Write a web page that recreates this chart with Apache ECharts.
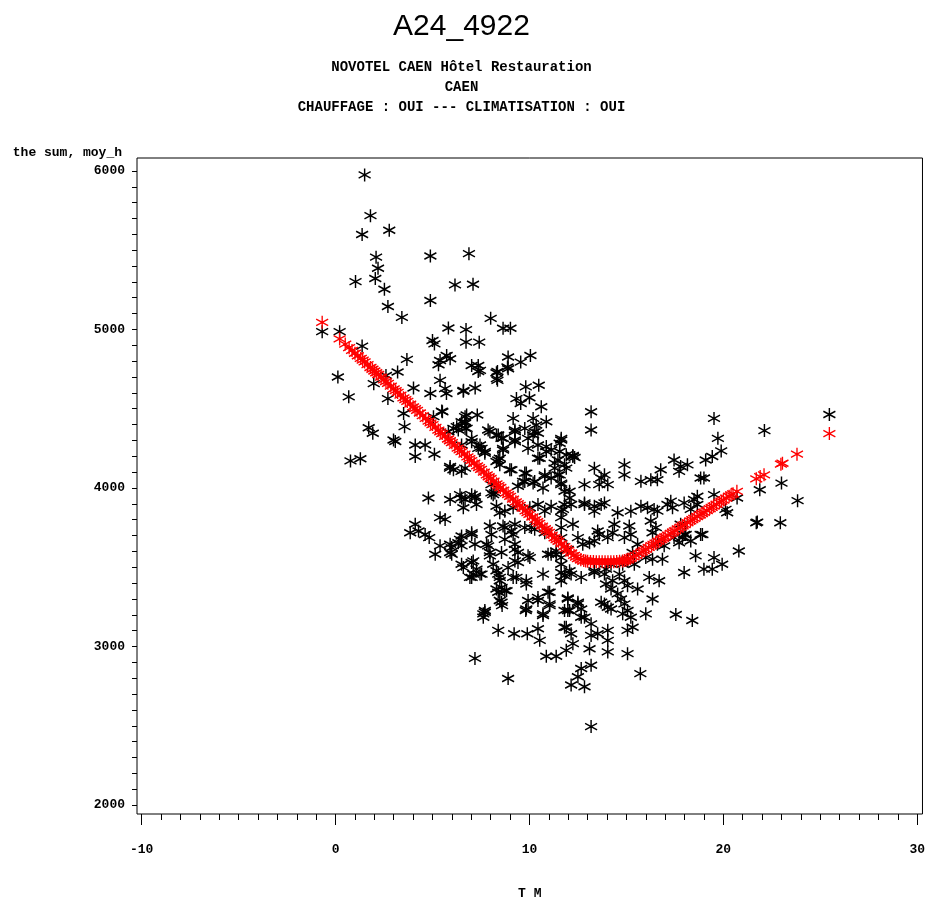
<!DOCTYPE html>
<html>
<head>
<meta charset="utf-8">
<script src="https://cdn.jsdelivr.net/npm/echarts@6/dist/echarts.min.js"></script>
<style>html,body{margin:0;padding:0;background:#fff;overflow:hidden}#c{width:928px;height:905px}</style>
</head>
<body>
<div id="c"></div>
<script>
// ---- texts ----
const titleText = 'A24_4922';
const subtitleLines = ['NOVOTEL CAEN Hôtel Restauration', 'CAEN', 'CHAUFFAGE : OUI --- CLIMATISATION : OUI'];
const yName = 'the sum, moy_h';
const xName = 'T M';
// ---- tick labels ----
const xTickLabels = [-10, 0, 10, 20, 30];
const yTickLabels = [2000, 3000, 4000, 5000, 6000];
// ---- observed values [T M, sum moy_h] ----
const observedUpper = [
[1.50,5975],[1.80,5718],[1.37,5599],[2.77,5626],[2.09,5456],[2.19,5386],[2.05,5321],[1.03,5302],[2.52,5254],[4.89,5463],[6.88,5478],[6.16,5281],[7.09,5285],[4.89,5183],[2.70,5145],[3.42,5076],[8.00,5070],[5.82,5009],[6.73,4999],[8.64,5008],[9.02,5008],[-0.69,4986],[0.21,4986],[5.00,4930],[5.10,4909],[6.73,4920],[7.41,4920],[1.37,4895],[3.68,4811],[5.73,4836],[5.91,4815],[5.39,4804],[5.31,4777],[7.02,4773],[7.36,4773],[7.45,4742],[8.90,4826],[8.87,4763],[8.35,4735],[8.32,4690],[9.55,4794],[10.05,4836],[0.12,4700],[0.68,4575],[3.20,4732],[2.60,4710],[1.97,4658],[4.02,4631],[5.39,4679],[5.65,4627],[5.72,4596],[4.89,4596],[6.60,4616],[7.20,4631],[2.70,4564],[3.51,4470],[3.56,4387],[5.05,4450],[5.51,4481],[6.76,4460],[6.68,4418],[7.31,4460],[4.11,4271],[4.62,4271],[2.99,4303],[1.71,4380],[1.92,4345],[5.82,4355],[6.25,4387],[6.50,4418],[6.68,4376],[7.02,4313],[7.45,4271],[7.96,4355],[8.39,4334],[8.64,4313],[9.16,4439],[9.25,4355],[9.25,4292],[9.33,4564],[9.55,4533],[10.00,4569],[10.48,4648],[10.61,4512],[9.81,4638],[10.19,4439],[10.35,4397],[10.87,4418],[10.27,4355],[9.93,4313],[10.87,4261],[11.64,4313],
[7.36,4735],[8.30,4727],[8.35,4679],[8.90,4752],[6.59,4610],[5.48,4485],[6.68,4450],[6.68,4408],[9.76,4376],[9.25,4366],[10.44,4345],[10.19,4334],[6.08,4376],[6.33,4366],[6.76,4376],[7.87,4366],[8.30,4334],[8.56,4313],[9.25,4303]
];
const observedMiddle = [
[0.77,4171],[1.28,4184],[3.08,4293],[4.11,4199],[5.10,4213],[5.90,4125],[6.08,4115],[6.50,4105],[4.79,3937],[5.91,3927],[6.42,3958],[6.59,3875],[6.68,3927],[7.19,3937],[7.27,3896],[5.39,3813],[5.65,3802],[4.11,3771],[3.85,3718],[4.28,3729],[4.62,3707],[4.83,3687],[5.39,3635],[5.14,3582],[5.91,3645],[5.99,3582],[6.42,3676],[6.50,3635],[7.02,3718],[6.50,3519],[6.59,3498],[7.10,3540],[7.02,3436],[7.45,3457],[7.27,3488],[7.19,3645],[7.79,3645],[7.96,3760],[8.04,3707],[7.96,3572],[8.13,3519],[8.56,3593],[8.73,3750],[9.07,3729],[9.25,3645],[8.39,3457],[8.47,3415],[8.56,3373],[8.39,3342],[8.73,3352],[8.47,3290],[8.59,3258],[9.25,3540],[9.33,3436],[9.41,3593],[9.84,3394],[10.02,3561],[10.10,3750],[7.62,3206],[7.70,3227],[8.39,3102],[9.21,3081],[9.89,3081],[10.44,3112],[10.53,3039],[9.81,3227],[10.70,3196],[11.04,3269],[11.04,3342],[10.44,3290],[7.19,2925],[8.90,2798],[10.87,2939],[11.38,2939],[10.70,3457],[9.76,4041],[10.02,3875],[10.27,4041],[10.70,4000],[10.79,4083],[8.39,4177],[9.07,4115],[9.76,4094],[10.44,4188],[10.87,4230],[11.30,4157],[11.47,4083],[11.64,4021],[11.56,4230],[8.04,4021],[8.30,3885],[8.22,3969],[7.70,4219],[7.02,4292],[6.50,4271],[7.36,4250],[8.64,4250],[9.93,4250],[10.44,4271],[11.81,3979],[11.81,3896],[11.64,3813],[11.64,3687],[11.38,3582],[11.12,3582],[11.64,3519],[11.64,3415],[11.81,3227],[11.81,3122],[11.90,2976],
[5.91,4136],[6.68,4125],[7.53,4250],[7.70,4230],[8.47,4188],[8.64,4240],[8.30,4167],[8.99,4115],[8.47,4146],[11.12,4240],[11.56,4282],[10.53,4188],[12.24,4205],[12.33,4192],[11.30,4125],[11.47,4177],[11.12,4063],[11.56,4083],[11.90,4125],[11.64,4031],[12.07,3979],[9.84,4094],[9.67,4042],[10.19,4031],[10.79,4073],[9.41,4011],[7.02,3958],[8.04,3969],
[6.50,3937],[7.19,3948],[8.13,3958],[8.47,3844],[8.73,3854],[9.16,3875],[10.44,3896],[10.79,3854],[11.12,3885],[11.64,3854],[12.07,3937],[12.84,3906],[13.35,3885],[13.87,3906],[8.64,3760],[9.25,3771],[9.76,3750],[10.27,3739],[10.79,3718],[6.50,3697],[6.33,3655],[7.02,3707],[7.87,3635],[7.96,3593],[5.91,3593],[5.99,3624],[8.73,3676],[9.16,3707],[9.25,3613],[9.41,3530],[8.90,3498],[8.30,3478],[8.47,3436],[9.16,3436],[9.84,3415],[9.93,3572],[10.96,3582],[11.38,3603],[11.64,3561],[12.07,3478],[11.81,3446],[13.35,3467],[13.95,3488],[14.29,3415],[7.02,3530],[7.10,3457],[6.93,3436],[7.53,3457],[8.30,3363],[8.82,3352],[8.56,3279],[9.93,3290],[10.44,3310],[10.96,3342],[11.04,3258],[10.70,3206],[9.84,3237],[11.98,3300],[12.50,3279],[12.67,3237],[12.07,3227],[12.84,3185],[7.70,3216],[7.62,3185],[13.70,3279],[14.21,3237]
];
const observedRight = [
[13.18,4481],[13.18,4366],[19.52,4439],[19.72,4313],[19.89,4234],[19.43,4199],[19.09,4177],[22.12,4362],[25.47,4464],[23.00,4031],[21.88,3989],[23.83,3920],[21.70,3781],[21.75,3785],[22.94,3781],[20.80,3603],[20.20,3844],[20.11,3865],[20.71,3937],[19.52,3561],[19.43,3488],[19.00,3488],[19.94,3519],[18.57,3572],[17.98,3467],[17.55,3202],[18.40,3164],[18.92,3707],[18.32,3666],[17.98,3707],[17.80,3771],[18.66,3948],[19.00,4063],[19.52,3958],[18.83,4063],[17.46,4177],[17.80,4136],[18.15,4146],[17.72,4105],[16.77,4115],[16.60,4052],[15.75,4042],[16.26,4052],[14.90,4146],[14.90,4083],[13.35,4125],[13.70,4063],[13.60,4021],[14.04,4021],[13.87,4083],[12.84,4021],[12.24,4199],[11.64,4303],[11.81,4146],[11.90,4209],[12.84,3896],[13.70,3896],[13.35,3854],[14.55,3844],[15.23,3854],[15.75,3885],[16.09,3875],[16.43,3865],[16.60,3854],[17.12,3896],[17.38,3875],[17.29,3917],[17.98,3906],[18.49,3927],[18.66,3896],[18.32,3865],[18.83,3707],[16.26,3792],[16.52,3750],[16.35,3718],[16.60,3645],[16.95,3635],[16.86,3551],[16.35,3551],[16.18,3436],[16.69,3415],[16.35,3300],[17.46,3687],[17.72,3655],[17.89,3687],[18.06,3707],[15.15,3760],[14.90,3687],[15.23,3707],[15.58,3645],[15.32,3593],[15.06,3551],[14.81,3519],[15.41,3519],[16.00,3561],[14.38,3771],[14.29,3718],[13.52,3729],[13.60,3707],[14.04,3687],[13.35,3666],[13.10,3655],[12.24,3771],[12.50,3687],[12.75,3645],[11.98,3613],[11.64,3750],[12.15,3896],[11.73,3865],[12.15,3457],[11.64,3467],[12.67,3436],[13.35,3478],[13.87,3457],[14.21,3519],[14.64,3457],[14.90,3415],[15.06,3384],[15.58,3363],[13.95,3394],[14.21,3363],[14.55,3332],[14.72,3300],[14.90,3269],[15.06,3227],[15.23,3185],[14.81,3206],[14.04,3248],[13.87,3269],[11.98,3306],[12.50,3269],[11.98,3227],[12.67,3185],[13.18,3143],[11.90,3122],[12.15,3081],[12.24,3018],[13.18,3070],[13.52,3081],[14.04,3102],[14.04,3039],[13.10,2986],[14.04,2966],[15.06,2955],[15.06,3102],[15.32,3122],[16.00,3206],[12.67,2861],[12.50,2809],[12.15,2757],[12.84,2746],[13.18,2882],[15.72,2829],[13.18,2495]
];
// ---- fitted values [T M, predicted] ----
const fitted = [
[-0.69,5045],[0.21,4940],[0.5,4908],[0.7,4885],[0.85,4868],[1.0,4850],[1.15,4834],[1.3,4817],[1.4,4806],[1.5,4795],[1.65,4778],[1.8,4760],[1.9,4749],[2.0,4738],[2.1,4727],[2.2,4716],[2.35,4699],[2.5,4682],[2.6,4671],[2.7,4660],[2.85,4643],[3.0,4625],[3.1,4614],[3.2,4603],[3.35,4586],[3.5,4569],[3.6,4557],[3.7,4546],[3.85,4529],[4.0,4512],[4.1,4501],[4.2,4490],[4.35,4473],[4.5,4456],[4.65,4439],[4.8,4422],[4.9,4411],[5.0,4400],[5.15,4382],[5.3,4365],[5.4,4354],[5.5,4343],[5.65,4326],[5.8,4309],[5.9,4298],[6.0,4286],[6.15,4269],[6.3,4252],[6.4,4241],[6.5,4230],[6.65,4213],[6.8,4196],[6.9,4185],[7.0,4173],[7.15,4156],[7.3,4139],[7.4,4128],[7.5,4117],[7.65,4100],[7.8,4083],[7.9,4071],[8.0,4060],[8.15,4043],[8.3,4026],[8.4,4015],[8.5,4003],[8.65,3986],[8.8,3969],[8.9,3958],[9.0,3947],[9.15,3930],[9.3,3913],[9.4,3901],[9.5,3890],[9.65,3873],[9.8,3856],[9.9,3845],[10.0,3834],[10.15,3817],[10.3,3800],[10.4,3788],[10.5,3777],[10.65,3760],[10.8,3743],[10.9,3732],[11.0,3720],[11.15,3703],[11.3,3686],[11.4,3675],[11.5,3664],[11.65,3647],[11.8,3630],[11.9,3618],[12.0,3607],[12.15,3590],[12.3,3575],[12.4,3564],[12.5,3555],[12.65,3547],[12.8,3542],[12.9,3540],[13.0,3538],[13.15,3537],[13.3,3536],[13.45,3535],[13.6,3535],[13.75,3535],[13.9,3535],[14.05,3535],[14.2,3535],[14.35,3535],[14.5,3536],[14.65,3538],[14.8,3540],[14.9,3542],[15.0,3545],[15.1,3550],[15.2,3556],[15.35,3565],[15.5,3575],[15.65,3586],[15.8,3597],[15.9,3605],[16.0,3613],[16.15,3625],[16.3,3636],[16.4,3644],[16.5,3652],[16.65,3664],[16.8,3675],[16.9,3683],[17.0,3691],[17.15,3703],[17.3,3714],[17.4,3722],[17.5,3730],[17.65,3742],[17.8,3753],[17.9,3761],[18.0,3769],[18.15,3781],[18.3,3792],[18.4,3800],[18.5,3808],[18.65,3820],[18.8,3831],[18.9,3839],[19.0,3846],[19.15,3858],[19.3,3870],[19.4,3878],[19.5,3885],[19.65,3897],[19.8,3909],[19.9,3917],[20.0,3924],[20.15,3936],[20.3,3948],[20.4,3956],[20.5,3963],[20.7,3979],[21.7,4058],[21.9,4072],[22.1,4083],[22.97,4150],[23.05,4156],[23.8,4213],[25.47,4343]
];

const observed = observedUpper.concat(observedMiddle, observedRight);
const xMinor = []; for (let v = -10; v <= 30; v++) xMinor.push(v);
const yMinor = []; for (let v = 2000; v <= 6000; v += 100) yMinor.push(v);

const star = 'path://M0,-6L0,6M-5.2,-3L5.2,3M-5.2,3L5.2,-3';
const mono = '"Liberation Mono", "DejaVu Sans Mono", monospace';
const plain = v => String(v);

const chart = echarts.init(document.getElementById('c'), null, {renderer: 'canvas'});
chart.setOption({
  animation: false,
  backgroundColor: '#fff',
  grid: {left: 137, top: 158, right: 2, bottom: 87, show: true, borderColor: '#000', borderWidth: 1, backgroundColor: 'transparent'},
  graphic: [
    {type: 'text', x: 461.5, y: 27, style: {text: titleText, font: '30px "Liberation Sans", Arial, sans-serif', fill: '#000', align: 'center', verticalAlign: 'middle'}},
    {type: 'text', x: 461.5, y: 67, style: {text: subtitleLines[0], font: 'bold 14px ' + mono, fill: '#000', align: 'center', verticalAlign: 'middle'}},
    {type: 'text', x: 461.5, y: 87, style: {text: subtitleLines[1], font: 'bold 14px ' + mono, fill: '#000', align: 'center', verticalAlign: 'middle'}},
    {type: 'text', x: 461.5, y: 107, style: {text: subtitleLines[2], font: 'bold 14px ' + mono, fill: '#000', align: 'center', verticalAlign: 'middle'}},
    {type: 'text', x: 122, y: 153, style: {text: yName, font: 'bold 13px ' + mono, fill: '#000', align: 'right', verticalAlign: 'middle'}}
  ],
  xAxis: [
    {type: 'value', min: -10.241, max: 30.272, position: 'bottom',
     name: xName, nameLocation: 'middle', nameGap: 73,
     nameTextStyle: {color: '#000', fontFamily: mono, fontWeight: 'bold', fontSize: 13},
     axisLine: {show: false, onZero: false}, splitLine: {show: false},
     axisTick: {show: true, inside: false, length: 11, customValues: xTickLabels, lineStyle: {color: '#000', width: 1}},
     axisLabel: {show: true, margin: 29, customValues: xTickLabels, formatter: plain, color: '#000', fontFamily: mono, fontWeight: 'bold', fontSize: 13}},
    {type: 'value', min: -10.241, max: 30.272, position: 'bottom', offset: 0,
     axisLine: {show: false, onZero: false}, splitLine: {show: false}, axisLabel: {show: false},
     axisTick: {show: true, inside: false, length: 6, customValues: xMinor, lineStyle: {color: '#000', width: 1}}}
  ],
  yAxis: [
    {type: 'value', min: 1943.6, max: 6081.5, position: 'left',
     axisLine: {show: false, onZero: false}, splitLine: {show: false},
     axisTick: {show: true, inside: false, length: 5, customValues: yMinor, lineStyle: {color: '#000', width: 1}},
     axisLabel: {show: true, margin: 12, customValues: yTickLabels, formatter: plain, color: '#000', fontFamily: mono, fontWeight: 'bold', fontSize: 13}}
  ],
  series: [
    {type: 'scatter', xAxisIndex: 0, yAxisIndex: 0, data: observed, symbol: star, symbolSize: [12, 13],
     itemStyle: {color: 'rgba(0,0,0,0)', borderColor: '#000', borderWidth: 1.5, opacity: 1}, emphasis: {disabled: true}, silent: true, z: 2},
    {type: 'scatter', xAxisIndex: 0, yAxisIndex: 0, data: fitted, symbol: star, symbolSize: [12, 13],
     itemStyle: {color: 'rgba(0,0,0,0)', borderColor: '#ff0000', borderWidth: 1.4, opacity: 1}, emphasis: {disabled: true}, silent: true, z: 3}
  ]
});
</script>
</body>
</html>
